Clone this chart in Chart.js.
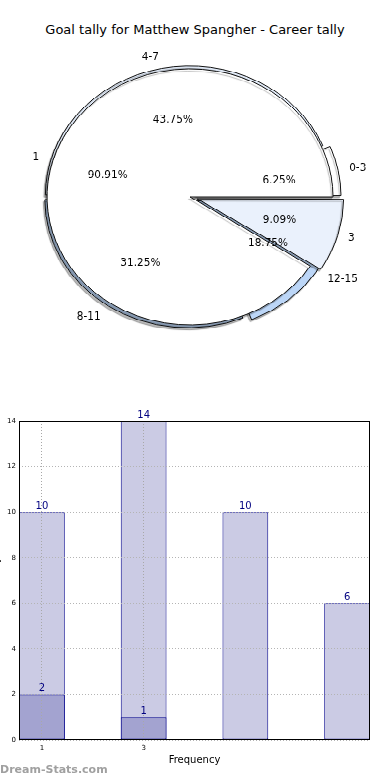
<!DOCTYPE html>
<html>
<head>
<meta charset="utf-8">
<title>Goal tally for Matthew Spangher</title>
<script src="https://cdn.jsdelivr.net/npm/chart.js@4.4.1/dist/chart.umd.min.js"></script>
<style>
  html, body { margin: 0; padding: 0; background: #fff; width: 390px; height: 780px; overflow: hidden; }
  body { position: relative; font-family: 'DejaVu Sans', sans-serif; }
  #title { position: absolute; top: 22px; left: 0; width: 390px; text-align: center; font-size: 13px; color: #000; }
  #pieBox { position: absolute; top: 0; left: 0; width: 390px; height: 440px; transform: scaleY(0.895); transform-origin: 0 0; }
  #pieBox canvas { position: absolute; top: 0; left: 0; }
  #barBox { position: absolute; top: 400px; left: -12px; width: 402px; height: 380px; }
  #watermark { position: absolute; left: 0; top: 763px; font-size: 11px; font-weight: bold; color: #a0a0a0; }
</style>
</head>
<body>
<div id="title">Goal tally for Matthew Spangher - Career tally</div>
<div id="pieBox">
  <canvas id="outerPie" width="390" height="440"></canvas>
  <canvas id="innerPie" width="390" height="440"></canvas>
</div>
<div id="barBox">
  <canvas id="barChart" width="402" height="380"></canvas>
</div>
<div id="watermark">Dream-Stats.com</div>

<script>
// pie: goals per game, grouped
const outerLabels = ['0-3', '4-7', '8-11', '12-15'];
const outerValues = [1, 7, 5, 3];
const innerLabels = ['1', '3'];
const innerValues = [10, 1];

// bars
const barPositions = [1, 3, 5, 7];
const barTotals = [10, 14, 10, 6];
const subsetPositions = [1, 3];
const subsetValues = [2, 1];
const xTickValues = [1, 3];
const yTickValues = [0, 2, 4, 6, 8, 10, 12, 14];

// styles
const outerColors = ['#ffffff', '#e3ecf9', '#bcd6f7', '#bcd6f7'];
const innerColors = ['#ffffff', '#eaf1fc'];
const outerExplode = [20, 8, 14, 32];
const innerExplode = [0, 30];
const SQUASH = 0.895;

Chart.defaults.font.family = '"DejaVu Sans", sans-serif';
Chart.defaults.color = '#000';

// chart.js goes clockwise from the top, the original goes counter-clockwise from 3 o'clock
const rev = (arr) => arr.slice().reverse();

const pieShadow = {
  id: 'pieShadow',
  beforeDatasetsDraw(chart) {
    const ctx = chart.ctx;
    ctx.save();
    ctx.shadowColor = 'rgba(0,0,0,0.28)';
    ctx.shadowOffsetX = -1.5;
    ctx.shadowOffsetY = 2.5;
    ctx.shadowBlur = 1;
  },
  afterDatasetsDraw(chart) {
    chart.ctx.restore();
  },
};

function drawPieLabels(ctx, chart, labelDist, pctDist) {
  const values = chart.data.datasets[0].data;
  const total = values.reduce((a, b) => a + b, 0);
  chart.getDatasetMeta(0).data.forEach((arc, i) => {
    const { x, y, startAngle, endAngle, outerRadius } = arc.getProps(['x', 'y', 'startAngle', 'endAngle', 'outerRadius'], true);
    const mid = (startAngle + endAngle) / 2;
    const shift = (arc.options.offset || 0) / 4;
    const cos = Math.cos(mid);
    const sin = Math.sin(mid);
    const put = (text, dist, align) => {
      const r = shift + dist * outerRadius;
      ctx.save();
      ctx.translate(x + cos * r, y + sin * r);
      ctx.scale(1, 1 / SQUASH);
      ctx.textAlign = align;
      ctx.textBaseline = 'middle';
      ctx.fillText(text, 0, 0);
      ctx.restore();
    };
    put(chart.data.labels[i], labelDist, cos >= 0 ? 'left' : 'right');
    put(((values[i] / total) * 100).toFixed(2) + '%', pctDist, 'center');
  });
}

let outerPieChart = null;

// all pie texts go on the top canvas so the inner pie does not hide them
const pieText = {
  id: 'pieText',
  afterDatasetsDraw(chart) {
    const ctx = chart.ctx;
    ctx.save();
    ctx.fillStyle = '#000';
    ctx.font = '10.5px "DejaVu Sans"';
    if (outerPieChart) drawPieLabels(ctx, outerPieChart, 1.1, 0.6);
    drawPieLabels(ctx, chart, 1.1, 0.6);
    ctx.restore();
  },
};

function makePie(id, labels, values, colors, explode, radius, extraPlugins) {
  return new Chart(document.getElementById(id), {
    type: 'pie',
    data: {
      labels: rev(labels),
      datasets: [
        {
          data: rev(values),
          backgroundColor: rev(colors),
          offset: rev(explode),
          borderColor: '#111',
          borderWidth: 1,
          radius: radius,
        },
      ],
    },
    options: {
      responsive: false,
      devicePixelRatio: 1,
      animation: false,
      events: [],
      rotation: 90,
      layout: { padding: { left: 0, right: 10, top: 0, bottom: 0 } },
      plugins: {
        legend: { display: false },
        tooltip: { enabled: false },
      },
    },
    plugins: [pieShadow, ...extraPlugins],
  });
}

outerPieChart = makePie('outerPie', outerLabels, outerValues, outerColors, outerExplode, 143, []);
makePie('innerPie', innerLabels, innerValues, innerColors, innerExplode, 143, [pieText]);

const plotFrame = {
  id: 'plotFrame',
  afterDraw(chart) {
    const { ctx, chartArea: a } = chart;
    ctx.save();
    ctx.strokeStyle = '#000';
    ctx.lineWidth = 1;
    ctx.strokeRect(a.left + 0.5, a.top + 0.5, a.right - a.left - 1, a.bottom - a.top - 1);
    ctx.restore();
  },
};

const barValues = {
  id: 'barValues',
  afterDraw(chart) {
    const ctx = chart.ctx;
    ctx.save();
    ctx.fillStyle = '#000080';
    ctx.font = '10px "DejaVu Sans"';
    ctx.textAlign = 'center';
    ctx.textBaseline = 'bottom';
    chart.data.datasets.forEach((ds, di) => {
      chart.getDatasetMeta(di).data.forEach((bar, i) => {
        ctx.fillText(String(ds.data[i].y), bar.x, bar.y - 1);
      });
    });
    ctx.restore();
  },
};

const barStyle = {
  borderColor: '#00008b',
  borderWidth: 1,
  borderSkipped: false,
  grouped: false,
  categoryPercentage: 0.45,
  barPercentage: 1,
};

new Chart(document.getElementById('barChart'), {
  type: 'bar',
  data: {
    datasets: [
      {
        ...barStyle,
        label: 'subset',
        data: subsetPositions.map((x, i) => ({ x, y: subsetValues[i] })),
        backgroundColor: '#a3a3d0',
      },
      {
        ...barStyle,
        label: 'total',
        data: barPositions.map((x, i) => ({ x, y: barTotals[i] })),
        backgroundColor: '#cbcbe4',
      },
    ],
  },
  options: {
    responsive: false,
    devicePixelRatio: 1,
    animation: false,
    events: [],
    layout: { padding: { left: 0, right: 20, top: 21, bottom: 0 } },
    plugins: { legend: { display: false }, tooltip: { enabled: false } },
    scales: {
      x: {
        type: 'linear',
        min: 0.55,
        max: 7.45,
        offset: false,
        afterBuildTicks: (s) => { s.ticks = xTickValues.map((v) => ({ value: v })); },
        afterFit: (s) => { s.height = 40; },
        ticks: { font: { size: 7 }, padding: 4, autoSkip: false, maxRotation: 0 },
        grid: { color: '#a8a8a8', drawTicks: false, offset: false, z: 1 },
        border: { display: false, dash: [1, 2] },
        title: { display: true, text: 'Frequency', font: { size: 10 }, padding: { top: 0, bottom: 14 } },
      },
      y: {
        min: 0,
        max: 14,
        afterBuildTicks: (s) => { s.ticks = yTickValues.map((v) => ({ value: v })); },
        afterFit: (s) => { s.width = 31; },
        ticks: { font: { size: 7 }, padding: 3 },
        grid: { color: '#b4b4b4', drawTicks: false, z: 1 },
        border: { display: false, dash: [1, 2] },
        title: { display: true, text: 'Goal tally', font: { size: 10 }, padding: { top: 2, bottom: 0 } },
      },
    },
  },
  plugins: [plotFrame, barValues],
});
</script>
</body>
</html>
